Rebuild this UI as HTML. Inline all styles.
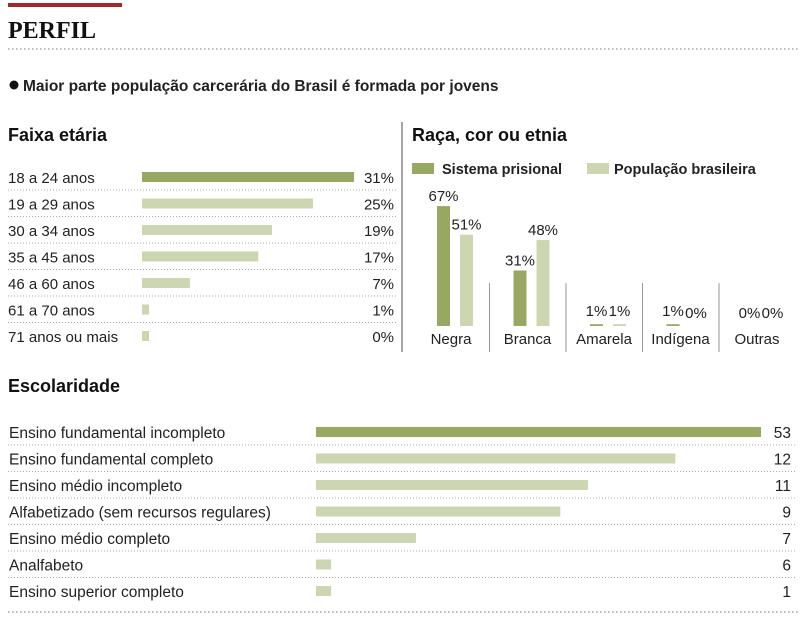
<!DOCTYPE html>
<html><head><meta charset="utf-8"><style>
body{margin:0;background:#fff;}
svg{display:block;font-family:"Liberation Sans",sans-serif;}
</style></head><body>
<svg id="c" width="800" height="631" viewBox="0 0 800 631" xmlns="http://www.w3.org/2000/svg">
<rect x="8" y="3" width="114" height="4" fill="#9e2b2b"/>
<text x="8" y="38" font-family="Liberation Serif,serif" font-weight="bold" font-size="24" fill="#111">PERFIL</text>
<line x1="8" y1="49" x2="800" y2="49" stroke="#777" stroke-dasharray="1.5,2.5"/>
<circle cx="14" cy="85" r="4.5" fill="#111"/>
<text x="23" y="91" font-size="15.5" font-weight="bold" fill="#222">Maior parte população carcerária do Brasil é formada por jovens</text>
<text x="8" y="141" font-size="18" font-weight="bold" fill="#111">Faixa etária</text>
<text x="412" y="141" font-size="18" font-weight="bold" fill="#111">Raça, cor ou etnia</text>
<line x1="402" y1="122" x2="402" y2="352" stroke="#888" stroke-width="1.5"/>
<rect x="412" y="163" width="22" height="11" fill="#97a862"/>
<text x="442" y="174" font-size="14.5" font-weight="bold" fill="#222">Sistema prisional</text>
<rect x="587" y="163" width="22" height="11" fill="#ccd6b0"/>
<text x="614" y="174" font-size="14.5" font-weight="bold" fill="#222">População brasileira</text>
<text x="8" y="392" font-size="18" font-weight="bold" fill="#111">Escolaridade</text>
<line x1="8" y1="612" x2="798" y2="612" stroke="#777" stroke-dasharray="1.5,2.5"/>
<g id="age"></g><g id="race"></g><g id="edu"></g>
</svg>
<script>
const ageCats=["18 a 24 anos","19 a 29 anos","30 a 34 anos","35 a 45 anos","46 a 60 anos","61 a 70 anos","71 anos ou mais"];
const ageVals=[31,25,19,17,7,1,0];
const raceCats=["Negra","Branca","Amarela","Indígena","Outras"];
const racePrison=[67,31,1,1,0];
const racePop=[51,48,1,0,0];
const eduCats=["Ensino fundamental incompleto","Ensino fundamental completo","Ensino médio incompleto","Alfabetizado (sem recursos regulares)","Ensino médio completo","Analfabeto","Ensino superior completo"];
const eduLabels=[53,12,11,9,7,6,1];
const eduBarLen=[53,42.8,32.4,29.1,11.9,1.8,1.8];
const NS="http://www.w3.org/2000/svg";
const DARK="#97a862",LIGHT="#ccd6b0";
function mk(p,tag,a,txt){const e=document.createElementNS(NS,tag);for(const k in a)e.setAttribute(k,a[k]);if(txt!==undefined)e.textContent=txt;p.appendChild(e);return e;}
// Age chart
const ag=document.getElementById('age');
const ax=v=>142+v*6.84, ay=i=>177+i*26.5;
ageCats.forEach((c,i)=>{
 const y=ay(i);
 let t=mk(ag,'text',{x:8,y:y+6,'font-size':15,fill:'#222'},c);
 
 
 const w=Math.max(ax(ageVals[i])-142,7);
 let r=mk(ag,'rect',{x:142,y:y-5,width:w,height:10,fill:i===0?DARK:LIGHT});
 
 
 let v=mk(ag,'text',{x:394,y:y+6,'font-size':15,fill:'#222','text-anchor':'end'},ageVals[i]+'%');
 
 
 if(i<ageCats.length-1){let l=mk(ag,'line',{x1:8,x2:396,y1:y+13,y2:y+13,stroke:'#aaa','stroke-dasharray':'1,2'});
 
 }
});
// Race chart
const rg=document.getElementById('race');
const base=326, ry=v=>base-v*1.79;
raceCats.forEach((c,i)=>{
 const gx=413+i*76.5;
 const xs=[gx+24,gx+47];
 [racePrison[i],racePop[i]].forEach((v,j)=>{
  const top=ry(v);
  if(v>0){let r=mk(rg,'rect',{x:xs[j],y:top,width:13,height:base-top,fill:j?LIGHT:DARK});
  
  }
  let t=mk(rg,'text',{x:xs[j]+6.5,y:top-(v>1?5:8),'font-size':15,fill:'#222','text-anchor':'middle'},v+'%');
  
  
 });
 let t=mk(rg,'text',{x:gx+38,y:344,'font-size':15,fill:'#222','text-anchor':'middle'},c);
 
 
 if(i>0){let l=mk(rg,'line',{x1:gx,x2:gx,y1:283,y2:352,stroke:'#999'});
 
 }
});
// Education chart
const eg=document.getElementById('edu');
const ex=v=>316+v*(445/53), ey=i=>432+i*26.5;
eduCats.forEach((c,i)=>{
 const y=ey(i);
 let t=mk(eg,'text',{x:9,y:y+6,'font-size':15.5,fill:'#222'},c);
 
 
 let r=mk(eg,'rect',{x:316,y:y-5,width:ex(eduBarLen[i])-316,height:10,fill:i===0?DARK:LIGHT});
 
 
 let v=mk(eg,'text',{x:791,y:y+6,'font-size':15.5,fill:'#222','text-anchor':'end'},eduLabels[i]);
 
 
 if(i<eduCats.length-1){let l=mk(eg,'line',{x1:8,x2:795,y1:y+13,y2:y+13,stroke:'#aaa','stroke-dasharray':'1,2'});
 
 }
});
</script>
</body></html>
